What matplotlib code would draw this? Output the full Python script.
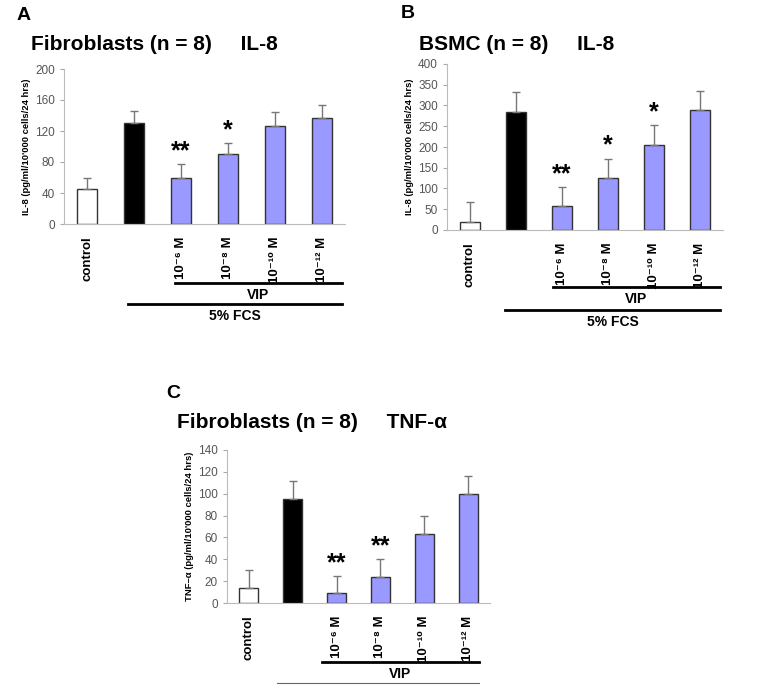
import numpy as np
import matplotlib.pyplot as plt

plt.rcParams['font.family'] = ['Liberation Sans', 'DejaVu Sans']

labels = ['control', '', '10\u207b\u2076 M', '10\u207b\u2078 M',
          '10\u207b\u00b9\u2070 M', '10\u207b\u00b9\u00b2 M']
colors = ['white', 'black', '#9999ff', '#9999ff', '#9999ff', '#9999ff']

a_vals = [45, 130, 60, 90, 127, 137]
a_err = [15, 16, 17, 15, 17, 17]
a_stars = ['', '', '**', '*', '', '']

b_vals = [20, 284, 58, 125, 206, 288]
b_err = [48, 48, 46, 47, 47, 47]
b_stars = ['', '', '**', '*', '*', '']

c_vals = [14, 95, 9, 24, 63, 100]
c_err = [16, 17, 16, 16, 17, 16]
c_stars = ['', '', '**', '**', '', '']

W, H = 777, 700
fig = plt.figure(figsize=(W / 100, H / 100), dpi=100)


def box(l, t, r, b):
    return [l / W, 1 - b / H, (r - l) / W, (b - t) / H]


def panel(rect, vals, err, stars, ymax, step, ylabel, title, title_xy,
          letter, letter_xy, lines):
    l, t, r, b = rect
    ax = fig.add_axes(box(l, t, r, b))
    x = np.arange(len(vals))
    ax.bar(x, vals, width=0.43, color=colors, edgecolor='#333333', linewidth=1)
    ax.errorbar(x, vals, yerr=[np.zeros(len(err)), err], fmt='none',
                ecolor='#777777', elinewidth=1, capsize=3, capthick=1)
    for xi, v, e, s in zip(x, vals, err, stars):
        if s:
            ax.text(xi, v + e + ymax * 0.005, s, ha='center', va='bottom',
                    fontsize=18, fontweight='bold')
    ax.set_xlim(-0.5, len(vals) - 0.5)
    ax.set_ylim(0, ymax)
    ax.set_yticks(np.arange(0, ymax + 1, step))
    ax.set_xticks(x)
    ax.set_xticklabels(labels, rotation=90, fontweight='bold', fontsize=9.5)
    ax.tick_params(axis='x', length=0, pad=9)
    ax.tick_params(axis='y', colors='#555555', labelsize=8.5, length=3,
                   color='#aaaaaa')
    for sp in ['top', 'right']:
        ax.spines[sp].set_visible(False)
    for sp in ['left', 'bottom']:
        ax.spines[sp].set_color('#bbbbbb')
    ax.set_ylabel(ylabel, fontsize=6.8, fontweight='bold', labelpad=3)
    fig.text(title_xy[0] / W, 1 - title_xy[1] / H, title, fontsize=15,
             fontweight='bold', va='center')
    fig.text(letter_xy[0] / W, 1 - letter_xy[1] / H, letter, fontsize=14,
             fontweight='bold', va='center')
    for x0, x1, y, lw, col, txt in lines:
        fig.add_artist(plt.Line2D([x0 / W, x1 / W], [1 - y / H, 1 - y / H],
                                  color=col, linewidth=lw))
        if txt:
            fig.text((x0 + x1) / 2 / W, 1 - (y + 12) / H, txt, ha='center',
                     va='center', fontsize=10, fontweight='bold')
    return ax


panel((64, 69, 345, 224), a_vals, a_err, a_stars, 200, 40,
      "IL-8 (pg/ml/10'000 cells/24 hrs)", 'Fibroblasts (n = 8)     IL-8',
      (31, 45), 'A', (17, 15),
      [(175, 342, 283, 2, 'black', 'VIP'),
       (128, 342, 304, 2, 'black', '5% FCS')])

panel((447, 64, 723, 230), b_vals, b_err, b_stars, 400, 50,
      "IL-8 (pg/ml/10'000 cells/24 hrs)", 'BSMC (n = 8)     IL-8',
      (419, 45), 'B', (401, 14),
      [(553, 720, 287, 2, 'black', 'VIP'),
       (505, 720, 310, 2, 'black', '5% FCS')])

panel((227, 450, 490, 603), c_vals, c_err, c_stars, 140, 20,
      "TNF\u2013\u03b1 (pg/ml/10'000 cells/24 hrs)", 'Fibroblasts (n = 8)     TNF-\u03b1',
      (177, 423), 'C', (166, 393),
      [(322, 479, 662, 2, 'black', 'VIP'),
       (277, 479, 683, 0.8, '#666666', '')])

fig.savefig('out.png', dpi=100)
